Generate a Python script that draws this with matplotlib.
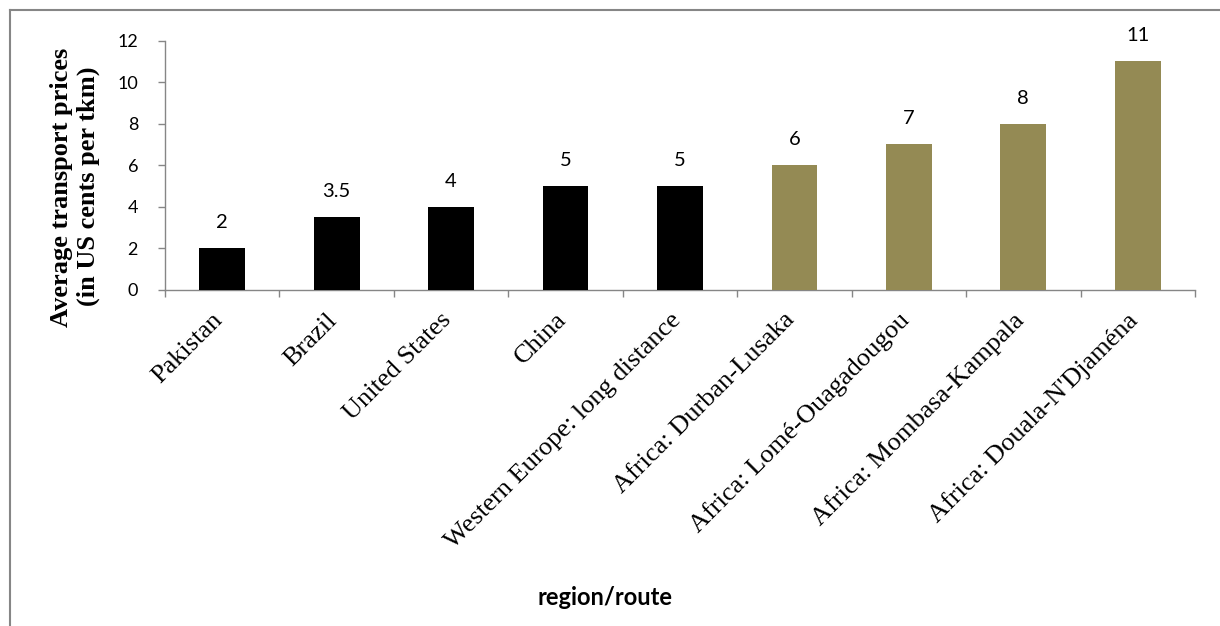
import numpy as np
import matplotlib
matplotlib.use("Agg")
import matplotlib.pyplot as plt
from matplotlib.lines import Line2D
from matplotlib.transforms import ScaledTranslation

# Average road freight prices by region / corridor
categories = [
    "Pakistan",
    "Brazil",
    "United States",
    "China",
    "Western Europe: long distance",
    "Africa: Durban-Lusaka",
    "Africa: Lomé-Ouagadougou",
    "Africa: Mombasa-Kampala",
    "Africa: Douala-N'Djaména",
]
prices = [2, 3.5, 4, 5, 5, 6, 7, 8, 11]
value_labels = ["2", "3.5", "4", "5", "5", "6", "7", "8", "11"]
is_africa = [False, False, False, False, False, True, True, True, True]

y_ticks = [0, 2, 4, 6, 8, 10, 12]

BLACK = "#000000"
OLIVE = "#948A54"
GREY = "#868686"

W, H, DPI = 1220, 626, 100
fig = plt.figure(figsize=(W / DPI, H / DPI), dpi=DPI)
fig.patch.set_facecolor("white")

# plot area in pixel coordinates
left_px, right_px, top_px, bottom_px = 165, 1195, 40.7, 289.5
ax = fig.add_axes([left_px / W, 1 - bottom_px / H,
                   (right_px - left_px) / W, (bottom_px - top_px) / H])

x = np.arange(len(categories))
colors = [OLIVE if a else BLACK for a in is_africa]
ax.bar(x, prices, width=0.40, color=colors, zorder=3)

ax.set_xlim(-0.5, len(categories) - 0.5)
ax.set_ylim(0, 12)

for s in ("top", "right"):
    ax.spines[s].set_visible(False)
for s in ("left", "bottom"):
    ax.spines[s].set_color(GREY)
    ax.spines[s].set_linewidth(1.0)

# y axis
ax.set_yticks(y_ticks)
ax.set_yticklabels([str(t) for t in y_ticks], fontfamily="Lato", fontsize=13)
ax.tick_params(axis="y", direction="out", length=5, width=1.0, color=GREY, pad=14.4)

# x axis: ticks at category boundaries, labels at centres
ax.set_xticks(np.arange(-0.5, len(categories), 1.0))
ax.set_xticklabels([])
ax.set_xticks(x, minor=True)
ax.set_xticklabels(categories, minor=True, rotation=45, ha="right", va="top",
                   fontfamily="Liberation Serif", fontsize=19)
ax.tick_params(axis="x", which="major", direction="out", length=5, width=1.0, color=GREY)
ax.tick_params(axis="x", which="minor", length=0, pad=14)
shift = ScaledTranslation(5 / DPI, 0, fig.dpi_scale_trans)
for lbl in ax.get_xticklabels(minor=True):
    lbl.set_transform(lbl.get_transform() + shift)

# value labels above the bars
for xi, v, txt in zip(x, prices, value_labels):
    ax.annotate(txt, xy=(xi, v), xytext=(0, 14.4), textcoords="offset points",
                ha="center", va="baseline", fontfamily="Lato", fontsize=14.5,
                color="black", zorder=4)

# axis titles
fig.text(68 / W, 1 - 187 / H, "Average transport prices", rotation=90,
         rotation_mode="anchor", ha="center", va="baseline",
         fontfamily="Liberation Serif", fontweight="bold", fontsize=19)
fig.text(95 / W, 1 - 186 / H, "(in US cents per tkm)", rotation=90,
         rotation_mode="anchor", ha="center", va="baseline",
         fontfamily="Liberation Serif", fontweight="bold", fontsize=19)
fig.text(605 / W, 1 - 605 / H, "region/route", ha="center", va="baseline",
         fontfamily="Lato", fontweight="bold", fontsize=17)

# chart frame (left and top edges)
fig.add_artist(Line2D([10 / W, 10 / W], [0, 1 - 10 / H], transform=fig.transFigure,
                      color=GREY, linewidth=1.5))
fig.add_artist(Line2D([10 / W, 1], [1 - 10 / H, 1 - 10 / H], transform=fig.transFigure,
                      color=GREY, linewidth=1.5))

fig.savefig("out.png", dpi=DPI, facecolor="white")
